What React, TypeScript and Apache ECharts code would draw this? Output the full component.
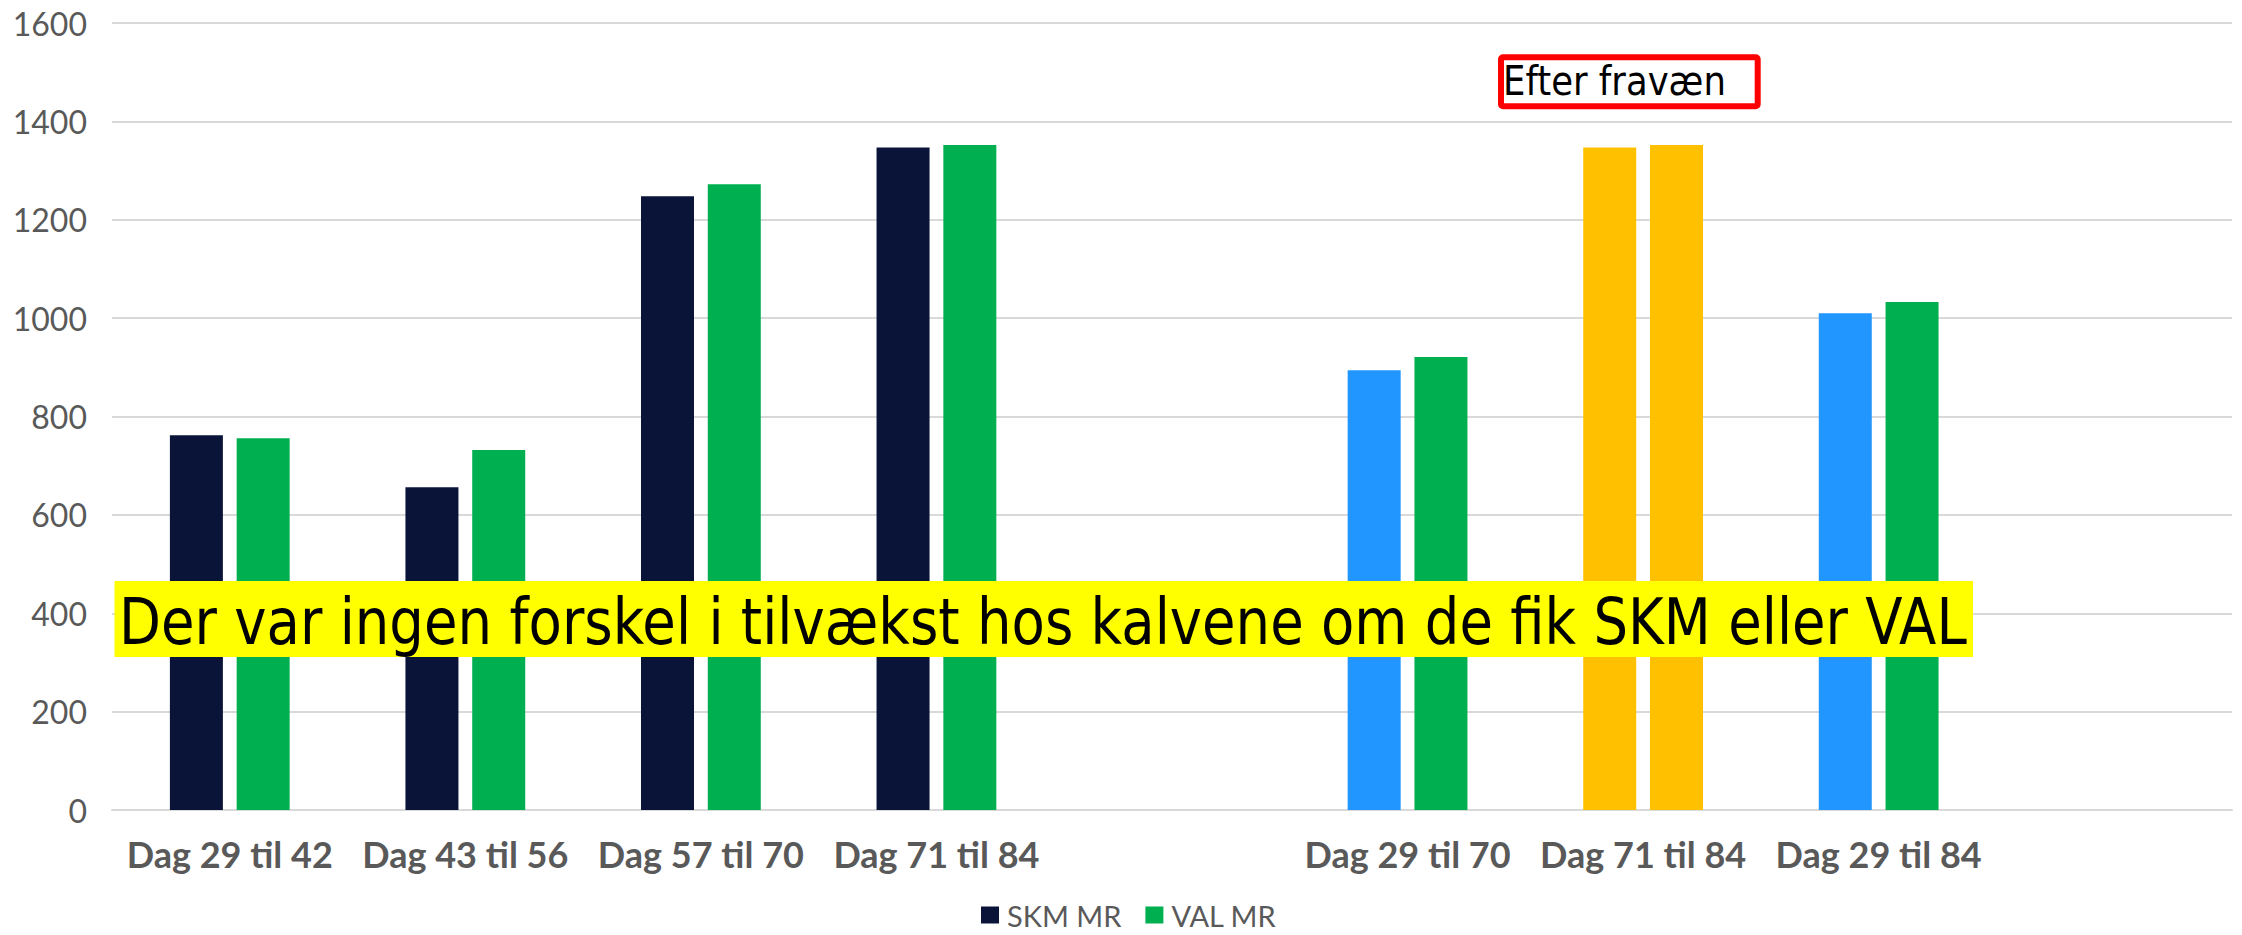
import React, { useEffect, useRef } from "react";
import * as echarts from "echarts";

const categories = [
  "Dag 29 til 42",
  "Dag 43 til 56",
  "Dag 57 til 70",
  "Dag 71 til 84",
  "",
  "Dag 29 til 70",
  "Dag 71 til 84",
  "Dag 29 til 84",
  "",
];
const skmValues: (number | null)[] = [762, 656, 1248, 1347, null, 894, 1347, 1010, null];
const valValues: (number | null)[] = [756, 732, 1272, 1352, null, 921, 1352, 1033, null];

const NAVY = "#0A1439";
const GREEN = "#00B050";
const BLUE = "#2196FF";
const ORANGE = "#FFC000";

const skmColors = [NAVY, NAVY, NAVY, NAVY, NAVY, BLUE, ORANGE, BLUE, NAVY];
const valColors = [GREEN, GREEN, GREEN, GREEN, GREEN, GREEN, ORANGE, GREEN, GREEN];

const yMin = 0;
const yMax = 1600;
const yStep = 200;

const seriesNames = ["SKM MR", "VAL MR"];
const bannerText = "Der var ingen forskel i tilvækst hos kalvene om de fik SKM eller VAL";
const noteText = "Efter fravæn";

function measure(text: string, font: string): number {
  const c = document.createElement("canvas").getContext("2d");
  if (!c) return 1;
  c.font = font;
  return c.measureText(text).width;
}

export default function App() {
  const ref = useRef<HTMLDivElement>(null);
  useEffect(() => {
    document.body.style.margin = "0";
    const chart = echarts.init(ref.current!, null, { renderer: "svg" });

    const bannerFont = 64;
    const bannerW = measure(bannerText, `${bannerFont}px 'DejaVu Sans'`);
    const bannerScale = 1848 / bannerW;
    const noteFont = 41;
    const noteW = measure(noteText, `${noteFont}px 'DejaVu Sans'`);
    const noteScale = 223 / noteW;

    const mk = (vals: (number | null)[], cols: string[]) =>
      vals.map((v, i) => (v == null ? "-" : { value: v, itemStyle: { color: cols[i] } }));

    chart.setOption({
      animation: false,
      grid: {
        left: 112,
        right: 10,
        top: 23,
        bottom: 125,
        containLabel: false,
        outerBoundsMode: "none",
      },
      legend: {
        data: seriesNames,
        left: 981,
        top: 900,
        padding: 0,
        itemWidth: 18,
        itemHeight: 17,
        itemGap: 24,
        icon: "rect",
        textStyle: {
          color: "#595959",
          fontSize: 29,
          fontFamily: "Lato",
          lineHeight: 30,
          padding: [0, 0, 0, 3],
        },
      },
      xAxis: {
        type: "category",
        data: categories,
        axisLine: { lineStyle: { color: "#D9D9D9", width: 2 } },
        axisTick: { show: false },
        axisLabel: {
          interval: 0,
          color: "#595959",
          fontSize: 36,
          fontWeight: "bold",
          fontFamily: "Lato",
          margin: 26,
        },
      },
      yAxis: {
        type: "value",
        min: yMin,
        max: yMax,
        interval: yStep,
        axisLine: { show: false },
        axisTick: { show: false },
        splitLine: { lineStyle: { color: "#D9D9D9", width: 2 } },
        axisLabel: {
          color: "#595959",
          fontSize: 32,
          fontFamily: "Lato",
          margin: 25,
          formatter: (v: number) => String(v),
        },
      },
      series: [
        {
          name: seriesNames[0],
          type: "bar",
          data: mk(skmValues, skmColors),
          itemStyle: { color: NAVY },
          barWidth: 53,
          barGap: "26%",
        },
        {
          name: seriesNames[1],
          type: "bar",
          data: mk(valValues, valColors),
          itemStyle: { color: GREEN },
          barWidth: 53,
          barGap: "26%",
        },
      ],
      graphic: [
        {
          type: "rect",
          z: 100,
          shape: { x: 114.5, y: 581, width: 1858.5, height: 76 },
          style: { fill: "#FFFF00" },
        },
        {
          type: "text",
          z: 101,
          x: 119,
          y: 622,
          scaleX: bannerScale,
          style: {
            text: bannerText,
            fontSize: bannerFont,
            fontFamily: "DejaVu Sans",
            fill: "#000000",
            align: "left",
            verticalAlign: "middle",
          },
        },
        {
          type: "rect",
          z: 100,
          shape: { x: 1501, y: 57.3, width: 256.7, height: 49, r: 2 },
          style: { fill: "none", stroke: "#FF0000", lineWidth: 6 },
        },
        {
          type: "text",
          z: 101,
          x: 1503,
          y: 81,
          scaleX: noteScale,
          style: {
            text: noteText,
            fontSize: noteFont,
            fontFamily: "DejaVu Sans",
            fill: "#000000",
            align: "left",
            verticalAlign: "middle",
          },
        },
      ],
    });
    return () => chart.dispose();
  }, []);
  return <div ref={ref} style={{ width: 2242, height: 935 }} />;
}
